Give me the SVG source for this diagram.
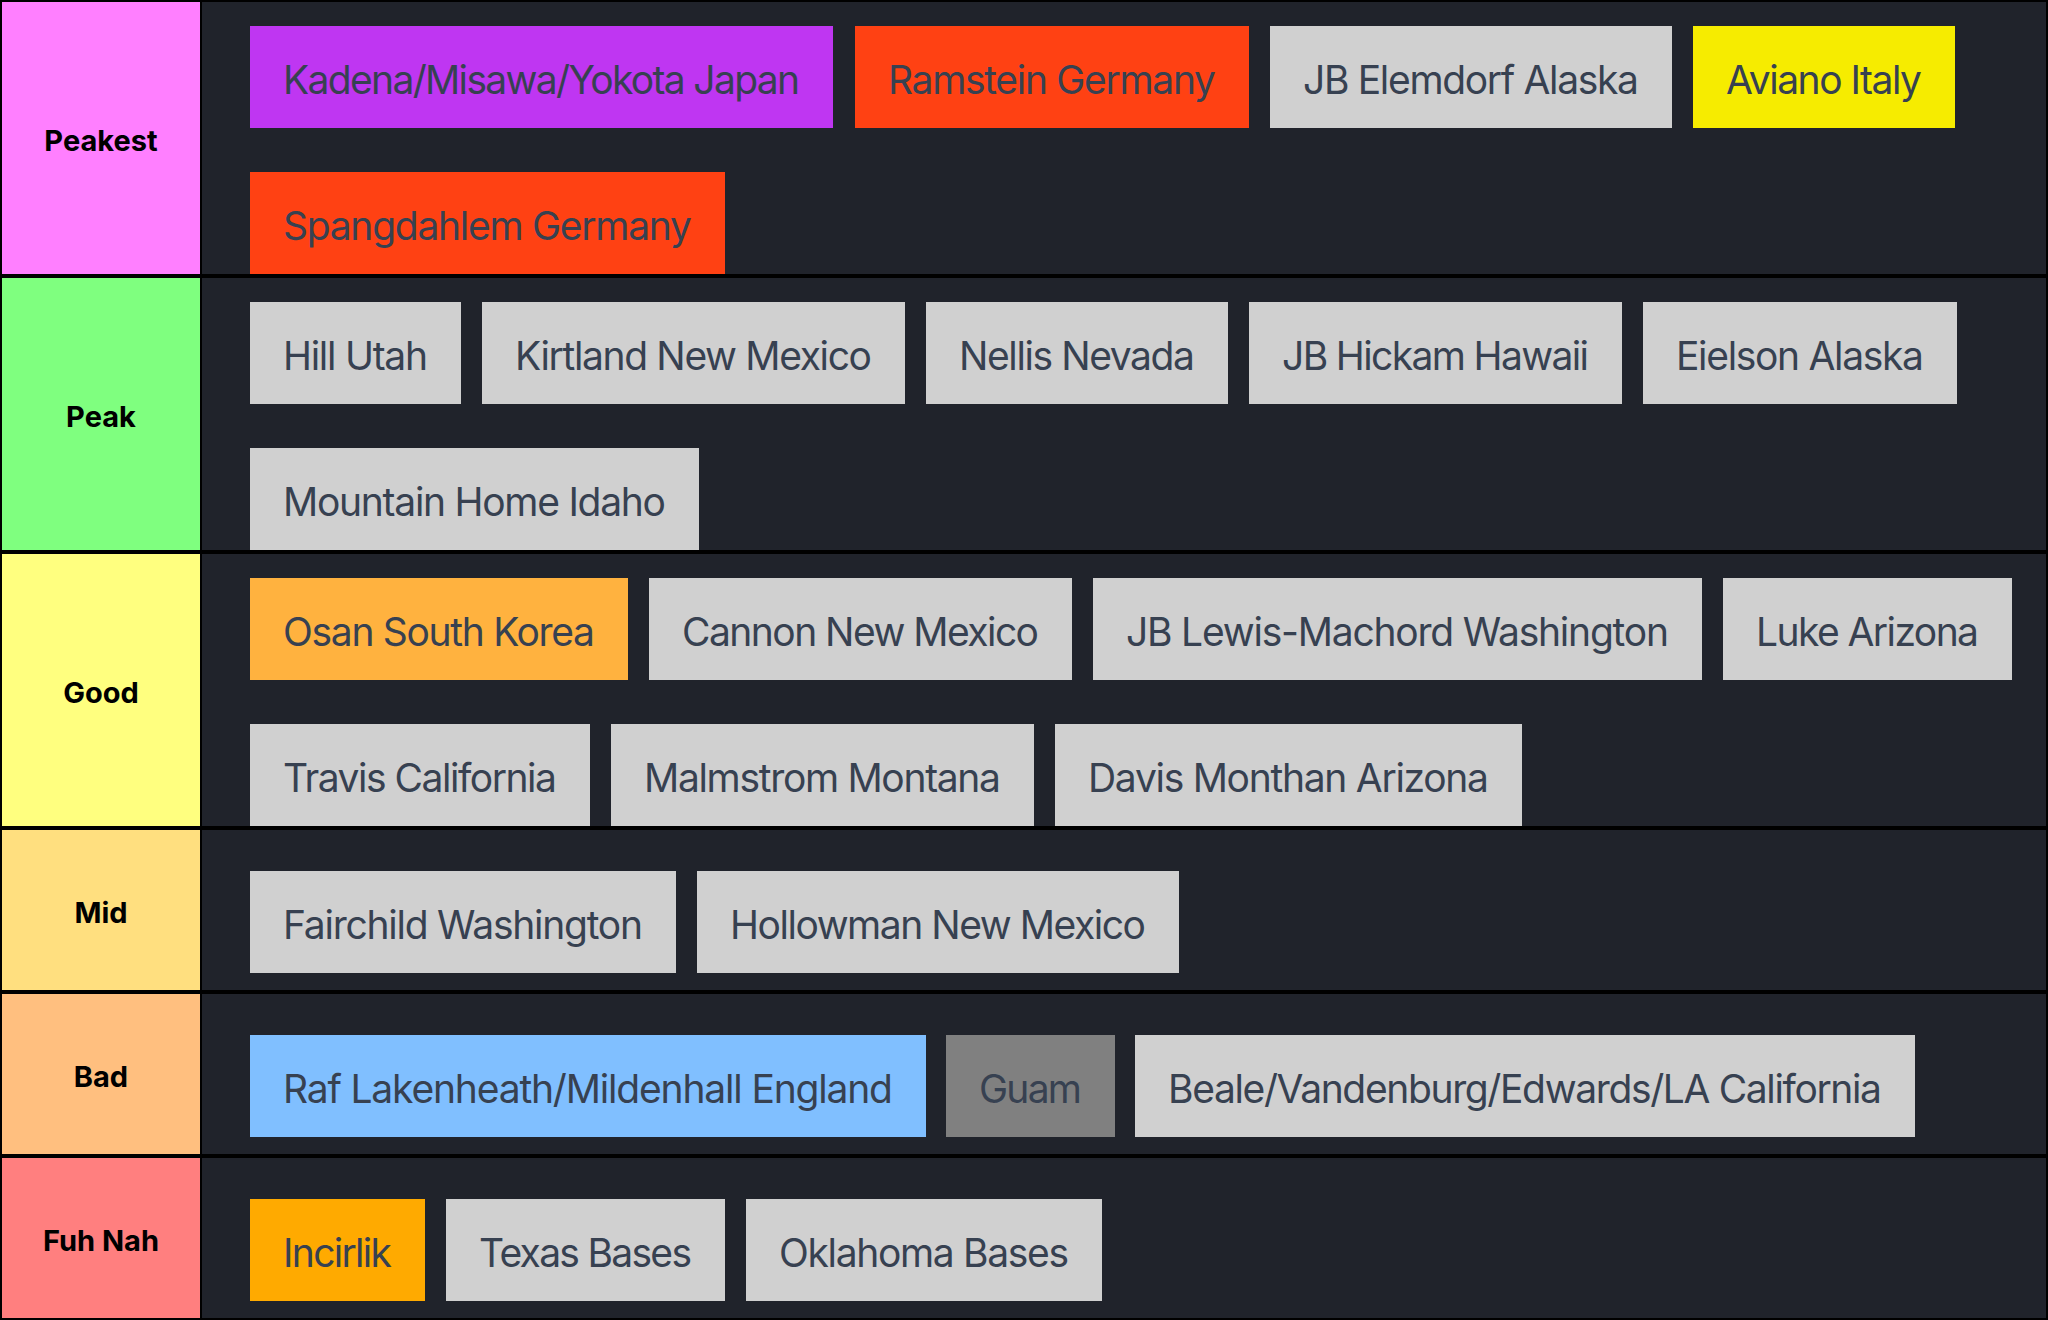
<svg xmlns="http://www.w3.org/2000/svg" width="2048" height="1320" viewBox="0 0 2048 1320">
<style>
.lab{font-family:Inter,"Noto Sans",sans-serif;font-weight:700;font-size:29px;fill:#000;text-anchor:middle}
.it{font-family:Inter,"Noto Sans",sans-serif;font-size:39px;fill:#374151;text-anchor:middle}
.row{fill:#20232b}
.g{fill:#d0d0d0}
</style>
<rect x="0" y="0" width="2048" height="1320" fill="#000"/>
<g id="tiers">
<g id="tier-peakest"><rect x="2" y="2" width="198" height="272" fill="#ff7fff"/><rect class="row" x="202" y="2" width="1844" height="272"/><text class="lab" x="101" y="151">Peakest</text></g>
<g id="tier-peak"><rect x="2" y="278" width="198" height="272" fill="#7fff7f"/><rect class="row" x="202" y="278" width="1844" height="272"/><text class="lab" x="101" y="427">Peak</text></g>
<g id="tier-good"><rect x="2" y="554" width="198" height="272" fill="#ffff7f"/><rect class="row" x="202" y="554" width="1844" height="272"/><text class="lab" x="101" y="703">Good</text></g>
<g id="tier-mid"><rect x="2" y="830" width="198" height="160" fill="#ffdf7f"/><rect class="row" x="202" y="830" width="1844" height="160"/><text class="lab" x="101" y="923">Mid</text></g>
<g id="tier-bad"><rect x="2" y="994" width="198" height="160" fill="#ffbf7f"/><rect class="row" x="202" y="994" width="1844" height="160"/><text class="lab" x="101" y="1087">Bad</text></g>
<g id="tier-fuhnah"><rect x="2" y="1158" width="198" height="160" fill="#ff7f7f"/><rect class="row" x="202" y="1158" width="1844" height="160"/><text class="lab" x="101" y="1251">Fuh Nah</text></g>
</g>
<g id="connectors"></g>
<g id="items">
<g id="kadena"><rect x="250" y="26" width="583" height="102" fill="#bf36f2"/><text class="it" x="541.5" y="94" textLength="517">Kadena/Misawa/Yokota Japan</text></g>
<g id="ramstein"><rect x="855" y="26" width="394" height="102" fill="#ff4113"/><text class="it" x="1052" y="94" textLength="328">Ramstein Germany</text></g>
<g id="elemdorf"><rect class="g" x="1270" y="26" width="402" height="102"/><text class="it" x="1471" y="94" textLength="336">JB Elemdorf Alaska</text></g>
<g id="aviano"><rect x="1693" y="26" width="262" height="102" fill="#f6ec00"/><text class="it" x="1824" y="94" textLength="196">Aviano Italy</text></g>
<g id="spangdahlem"><rect x="250" y="172" width="475" height="102" fill="#ff4113"/><text class="it" x="487.5" y="240" textLength="409">Spangdahlem Germany</text></g>

<g id="hill"><rect class="g" x="250" y="302" width="211" height="102"/><text class="it" x="355.5" y="370" textLength="145">Hill Utah</text></g>
<g id="kirtland"><rect class="g" x="482" y="302" width="423" height="102"/><text class="it" x="693.5" y="370" textLength="357">Kirtland New Mexico</text></g>
<g id="nellis"><rect class="g" x="926" y="302" width="302" height="102"/><text class="it" x="1077" y="370" textLength="236">Nellis Nevada</text></g>
<g id="hickam"><rect class="g" x="1249" y="302" width="373" height="102"/><text class="it" x="1435.5" y="370" textLength="307">JB Hickam Hawaii</text></g>
<g id="eielson"><rect class="g" x="1643" y="302" width="314" height="102"/><text class="it" x="1800" y="370" textLength="248">Eielson Alaska</text></g>
<g id="mountainhome"><rect class="g" x="250" y="448" width="449" height="102"/><text class="it" x="474.5" y="516" textLength="383">Mountain Home Idaho</text></g>

<g id="osan"><rect x="250" y="578" width="378" height="102" fill="#ffb23f"/><text class="it" x="439" y="646" textLength="312">Osan South Korea</text></g>
<g id="cannon"><rect class="g" x="649" y="578" width="423" height="102"/><text class="it" x="860.5" y="646" textLength="357">Cannon New Mexico</text></g>
<g id="lewis"><rect class="g" x="1093" y="578" width="609" height="102"/><text class="it" x="1397.5" y="646" textLength="543">JB Lewis-Machord Washington</text></g>
<g id="luke"><rect class="g" x="1723" y="578" width="289" height="102"/><text class="it" x="1867.5" y="646" textLength="223">Luke Arizona</text></g>
<g id="travis"><rect class="g" x="250" y="724" width="340" height="102"/><text class="it" x="420" y="792" textLength="274">Travis California</text></g>
<g id="malmstrom"><rect class="g" x="611" y="724" width="423" height="102"/><text class="it" x="822.5" y="792" textLength="357">Malmstrom Montana</text></g>
<g id="davis"><rect class="g" x="1055" y="724" width="467" height="102"/><text class="it" x="1288.5" y="792" textLength="401">Davis Monthan Arizona</text></g>

<g id="fairchild"><rect class="g" x="250" y="871" width="426" height="102"/><text class="it" x="463" y="939" textLength="360">Fairchild Washington</text></g>
<g id="hollowman"><rect class="g" x="697" y="871" width="482" height="102"/><text class="it" x="938" y="939" textLength="416">Hollowman New Mexico</text></g>

<g id="lakenheath"><rect x="250" y="1035" width="676" height="102" fill="#80bfff"/><text class="it" x="588" y="1103" textLength="610">Raf Lakenheath/Mildenhall England</text></g>
<g id="guam"><rect x="946" y="1035" width="169" height="102" fill="#808080"/><text class="it" x="1030.5" y="1103" textLength="103">Guam</text></g>
<g id="beale"><rect class="g" x="1135" y="1035" width="780" height="102"/><text class="it" x="1525" y="1103" textLength="714">Beale/Vandenburg/Edwards/LA California</text></g>

<g id="incirlik"><rect x="250" y="1199" width="175" height="102" fill="#ffaa00"/><text class="it" x="337.5" y="1267" textLength="109">Incirlik</text></g>
<g id="texas"><rect class="g" x="446" y="1199" width="279" height="102"/><text class="it" x="585.5" y="1267" textLength="213">Texas Bases</text></g>
<g id="oklahoma"><rect class="g" x="746" y="1199" width="356" height="102"/><text class="it" x="924" y="1267" textLength="290">Oklahoma Bases</text></g>
</g>
</svg>
